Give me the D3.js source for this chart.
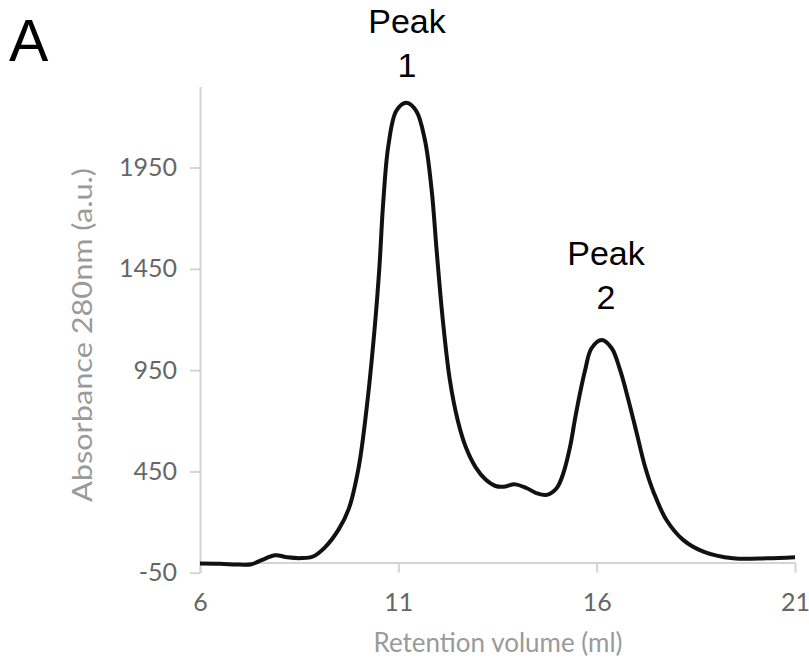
<!DOCTYPE html>
<html>
<head>
<meta charset="utf-8">
<script src="https://cdn.jsdelivr.net/npm/d3@7"></script>
<style>
  html, body { margin: 0; padding: 0; background: #fff; }
  svg { display: block; }
</style>
</head>
<body>
<svg id="chart" width="809" height="666"></svg>
<script>
// Retention volume (ml)
const volume = [6.0, 6.5, 7.0, 7.3, 7.55, 7.9, 8.2, 8.55, 8.85, 9.15, 9.5, 9.75, 10.0, 10.2, 10.4, 10.52, 10.62, 10.75, 10.95, 11.2, 11.45, 11.67, 11.84, 11.97, 12.12, 12.3, 12.5, 12.7, 12.95, 13.2, 13.45, 13.65, 13.94, 14.24, 14.49, 14.74, 14.99, 15.16, 15.33, 15.45, 15.58, 15.71, 15.87, 16.13, 16.38, 16.59, 16.8, 17.01, 17.22, 17.44, 17.76, 18.18, 18.69, 19.44, 20.29, 21.0];
// Absorbance 280nm (a.u.)
const absorbance = [-5, -6, -10, -8, 12, 36, 26, 22, 30, 75, 165, 265, 470, 760, 1150, 1450, 1780, 2060, 2230, 2270, 2230, 2086, 1839, 1530, 1200, 900, 700, 570, 470, 410, 378, 374, 386, 367, 342, 334, 367, 441, 572, 704, 836, 951, 1058, 1099, 1058, 951, 803, 638, 473, 345, 210, 112, 54, 21, 21, 26];

const xTicks = [6, 11, 16, 21];
const yTicks = [-50, 450, 950, 1450, 1950];

const peakLabels = [
  { lines: ["Peak", "1"] },
  { lines: ["Peak", "2"] }
];

const svg = d3.select("#chart");

const x = d3.scaleLinear().domain([6, 21]).range([200, 795]);
const y = d3.scaleLinear().domain([-50, 2350]).range([572.7, 86.5]);

const axisColor = "#d4d4d4";
const tickTextColor = "#666666";
const titleColor = "#9a9a9a";

// Y axis
const yAxis = svg.append("g")
  .attr("transform", "translate(200,0)")
  .call(d3.axisLeft(y).tickValues(yTicks).tickSize(10).tickSizeOuter(0).tickPadding(13).tickFormat(d => String(d)));
yAxis.select(".domain").attr("stroke", axisColor).attr("stroke-width", 2);
yAxis.selectAll(".tick line").attr("stroke", axisColor).attr("stroke-width", 2);
yAxis.selectAll(".tick text")
  .attr("fill", tickTextColor)
  .style("font-family", "Lato, 'Open Sans', sans-serif")
  .style("font-size", "25px");

// X axis at y = 0
const xAxis = svg.append("g")
  .attr("transform", `translate(0,${y(0)})`)
  .call(d3.axisBottom(x).tickValues(xTicks).tickSize(10).tickSizeOuter(0).tickFormat(d => String(d)));
xAxis.select(".domain").attr("stroke", axisColor).attr("stroke-width", 2);
xAxis.selectAll(".tick line").attr("stroke", axisColor).attr("stroke-width", 2);
xAxis.selectAll(".tick text")
  .attr("fill", tickTextColor)
  .attr("y", 48)
  .attr("dy", 0)
  .style("font-family", "Lato, 'Open Sans', sans-serif")
  .style("font-size", "25px");

// Axis titles
svg.append("text")
  .attr("x", 498)
  .attr("y", 652)
  .attr("text-anchor", "middle")
  .attr("fill", titleColor)
  .style("font-family", "Lato, 'Open Sans', sans-serif")
  .style("font-size", "26px")
  .text("Retention volume (ml)");

svg.append("text")
  .attr("transform", "translate(92,335) rotate(-90)")
  .attr("text-anchor", "middle")
  .attr("fill", titleColor)
  .attr("textLength", 334)
  .attr("lengthAdjust", "spacingAndGlyphs")
  .style("font-family", "Lato, 'Open Sans', sans-serif")
  .style("font-size", "26px")
  .text("Absorbance 280nm (a.u.)");

// Curve
const line = d3.line()
  .x((d, i) => x(volume[i]))
  .y((d, i) => y(absorbance[i]))
  .curve(d3.curveCatmullRom.alpha(0.5));

svg.append("path")
  .datum(volume)
  .attr("d", line)
  .attr("fill", "none")
  .attr("stroke", "#111")
  .attr("stroke-width", 4)
  .attr("stroke-linejoin", "round");

// Peak labels
const peakPos = [{ x: 407, y: [33, 77] }, { x: 606, y: [265, 309] }];
peakLabels.forEach((p, k) => {
  p.lines.forEach((t, j) => {
    svg.append("text")
      .attr("x", peakPos[k].x)
      .attr("y", peakPos[k].y[j])
      .attr("text-anchor", "middle")
      .attr("fill", "#000")
      .style("font-family", "'Liberation Sans', Arial, sans-serif")
      .style("font-size", "34px")
      .text(t);
  });
});

// Panel letter
svg.append("text")
  .attr("x", 9)
  .attr("y", 61)
  .attr("fill", "#000")
  .style("font-family", "'Liberation Sans', Arial, sans-serif")
  .style("font-size", "59px")
  .text("A");
</script>
</body>
</html>
